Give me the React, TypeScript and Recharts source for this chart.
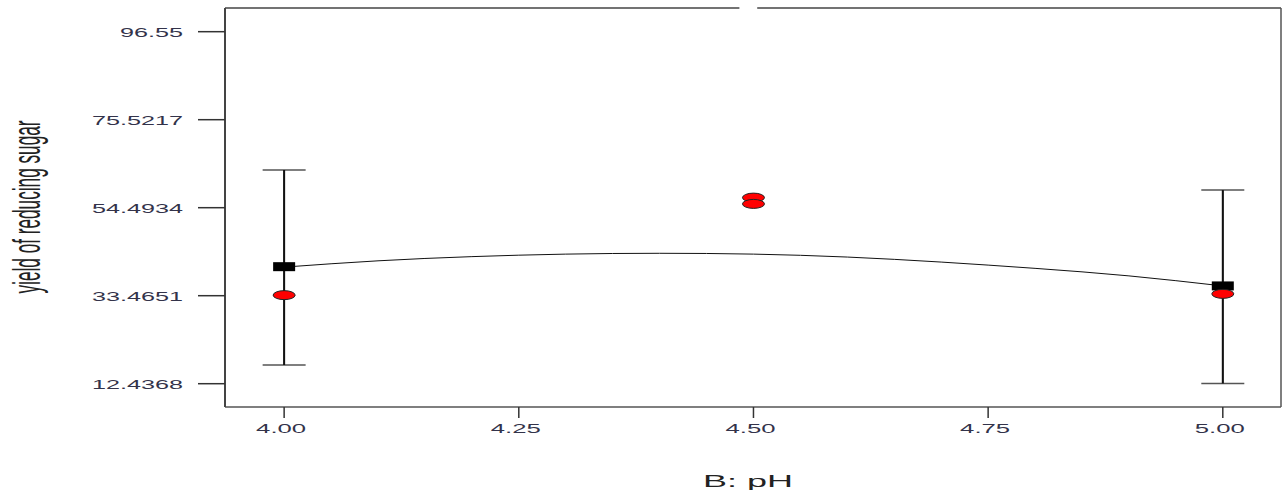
import React from 'react';
import {
  ComposedChart,
  Line,
  Scatter,
  ErrorBar,
  XAxis,
  YAxis,
  ReferenceLine,
  Label,
} from 'recharts';

// axis ticks as printed on the plot
const yTicks = [12.4368, 33.4651, 54.4934, 75.5217, 96.55];
const xTicks = [4.0, 4.25, 4.5, 4.75, 5.0];

// fitted curve
const curvePH = [4.0, 4.1, 4.2, 4.3, 4.4, 4.5, 4.6, 4.7, 4.8, 4.9, 5.0];
const curveYield = [40.3, 41.8, 42.8, 43.4, 43.6, 43.4, 42.7, 41.5, 40.0, 38.2, 35.8];

// predicted means with their intervals (low, high offsets)
const meanPH = [4.0, 5.0];
const meanYield = [40.4, 35.8];
const meanLow = [23.5, 23.3];
const meanHigh = [23.1, 22.9];

// design points
const obsPH = [4.0, 4.5, 4.5, 5.0];
const obsYield = [33.6, 56.9, 55.4, 33.9];

const X_MIN = 3.937;
const X_MAX = 5.062;
const Y_MIN = 6.87;
const Y_MAX = 102.21;

const curveData = curvePH.map((x, i) => ({ x, y: curveYield[i] }));
const meanData = meanPH.map((x, i) => ({
  x,
  y: meanYield[i],
  err: [meanLow[i], meanHigh[i]],
}));
const obsData = obsPH.map((x, i) => ({ x, y: obsYield[i] }));

const FONT = '"Liberation Sans", Arial, sans-serif';
const TEXT_COLOR = '#33334a';

const YTick = (props: any) => {
  const { x, y, payload } = props;
  const label = String(payload.value);
  return (
    <text
      x={x}
      y={y}
      dy={5}
      textAnchor="end"
      fontFamily={FONT}
      fontSize={13}
      fill={TEXT_COLOR}
      textLength={label.length > 5 ? 91 : 63}
      lengthAdjust="spacingAndGlyphs"
    >
      {label}
    </text>
  );
};

const XTick = (props: any) => {
  const { x, y, payload } = props;
  return (
    <text
      x={x - 3}
      y={y}
      dy={11}
      textAnchor="middle"
      fontFamily={FONT}
      fontSize={12}
      fill={TEXT_COLOR}
      textLength={50}
      lengthAdjust="spacingAndGlyphs"
    >
      {Number(payload.value).toFixed(2)}
    </text>
  );
};

const MeanSquare = (props: any) => {
  const { cx, cy } = props;
  return <rect x={cx - 11} y={cy - 4.5} width={22} height={9} fill="#000" />;
};

const RedDot = (props: any) => {
  const { cx, cy } = props;
  return <ellipse cx={cx} cy={cy} rx={11} ry={4.5} fill="#ff0000" stroke="#222" strokeWidth={1} />;
};

export default function App() {
  return (
    <div style={{ position: 'absolute', left: 0, top: 0, background: '#fff' }}>
      <ComposedChart
        width={1285}
        height={497}
        margin={{ top: 8, right: 4, left: 0, bottom: 0 }}
      >
        <XAxis
          type="number"
          dataKey="x"
          domain={[X_MIN, X_MAX]}
          ticks={xTicks}
          allowDataOverflow
          height={90}
          tickSize={11}
          tickMargin={4}
          tick={<XTick />}
          axisLine={{ stroke: '#555', strokeWidth: 1.5 }}
          tickLine={{ stroke: '#333', strokeWidth: 1.5 }}
        >
          <Label
            content={() => (
              <text
                x={748}
                y={487}
                textAnchor="middle"
                fontFamily={FONT}
                fontSize={17}
                fill="#222"
                textLength={90}
                lengthAdjust="spacingAndGlyphs"
              >
                B: pH
              </text>
            )}
          />
        </XAxis>
        <YAxis
          type="number"
          dataKey="y"
          domain={[Y_MIN, Y_MAX]}
          ticks={yTicks}
          allowDataOverflow
          width={225}
          tickSize={27}
          tickMargin={15}
          tick={<YTick />}
          axisLine={{ stroke: '#444', strokeWidth: 2 }}
          tickLine={{ stroke: '#333', strokeWidth: 1.5 }}
        >
          <Label
            content={() => (
              <text
                transform="translate(40, 207) scale(2.3, 1) rotate(-90)"
                textAnchor="middle"
                fontFamily={FONT}
                fontSize={17}
                fill="#222"
                textLength={173}
                lengthAdjust="spacingAndGlyphs"
              >
                yield of reducing sugar
              </text>
            )}
          />
        </YAxis>

        {/* plot frame: top (with small gap) and right */}
        <ReferenceLine
          segment={[{ x: X_MIN, y: Y_MAX }, { x: 4.485, y: Y_MAX }]}
          stroke="#444"
          strokeWidth={1.5}
          ifOverflow="visible"
        />
        <ReferenceLine
          segment={[{ x: 4.504, y: Y_MAX }, { x: X_MAX, y: Y_MAX }]}
          stroke="#444"
          strokeWidth={1.5}
          ifOverflow="visible"
        />
        <ReferenceLine x={X_MAX} stroke="#555" strokeWidth={1.5} ifOverflow="visible" />

        <Scatter data={meanData} shape={() => <g />} isAnimationActive={false}>
          <ErrorBar dataKey="err" direction="y" width={21.5} stroke="#555" strokeWidth={1.5} />
          <ErrorBar dataKey="err" direction="y" width={0} stroke="#111" strokeWidth={2} />
        </Scatter>

        <Line
          data={curveData}
          dataKey="y"
          type="natural"
          stroke="#111"
          strokeWidth={1}
          dot={false}
          activeDot={false}
          isAnimationActive={false}
        />

        <Scatter data={meanData} shape={<MeanSquare />} isAnimationActive={false} />
        <Scatter data={obsData} shape={<RedDot />} isAnimationActive={false} />
      </ComposedChart>
    </div>
  );
}
